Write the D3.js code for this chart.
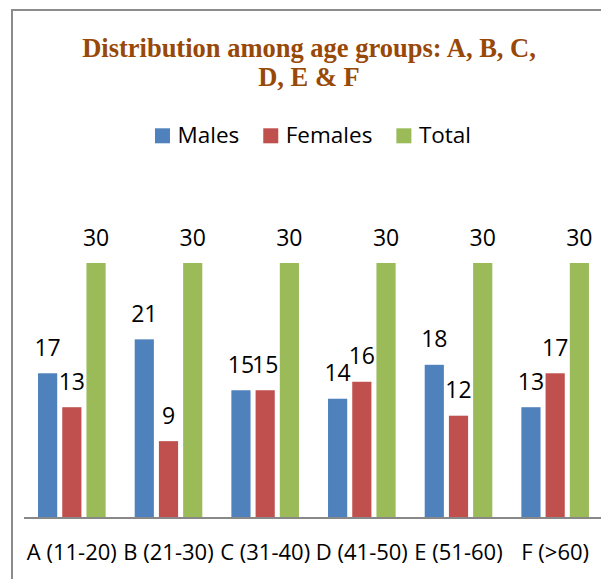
<!DOCTYPE html>
<html>
<head>
<meta charset="utf-8">
<script src="https://cdn.jsdelivr.net/npm/d3@7/dist/d3.min.js"></script>
<style>
  html, body { margin: 0; padding: 0; background: #fff; }
  svg { display: block; }
</style>
</head>
<body>
<svg id="chart" width="601" height="579"></svg>
<script>
const categories = ["A (11-20)", "B (21-30)", "C (31-40)", "D (41-50)", "E (51-60)", "F (>60)"];
const seriesNames = ["Males", "Females", "Total"];
const males = [17, 21, 15, 14, 18, 13];
const females = [13, 9, 15, 16, 12, 17];
const total = [30, 30, 30, 30, 30, 30];
const colors = ["#4F81BD", "#C0504D", "#9BBB59"];
const titleLines = ["Distribution among age groups: A, B, C,", "D, E & F"];

const seriesValues = [males, females, total];
const W = 601, H = 579;
const svg = d3.select("#chart");
const sansFont = "'Open Sans', 'Liberation Sans', sans-serif";

// frame
svg.append("rect")
  .attr("x", 12).attr("y", 10)
  .attr("width", W + 20).attr("height", H + 20)
  .attr("fill", "#fff").attr("stroke", "#8c8c8c").attr("stroke-width", 2);

// title
const title = svg.append("text")
  .attr("text-anchor", "middle")
  .attr("font-family", "'Liberation Serif', 'Times New Roman', serif")
  .attr("font-weight", "bold")
  .attr("font-size", 26.5)
  .attr("fill", "#984807");
titleLines.forEach((t, i) => {
  title.append("tspan").attr("x", 309).attr("y", 57 + i * 29).text(t);
});

// scales
const x = d3.scaleBand().domain(categories).range([23.5, 603.5]).paddingInner(0).paddingOuter(0);
const xs = d3.scaleBand().domain(seriesNames).range([-33.8, 33.8]).paddingInner(0.208).paddingOuter(0);
const y = d3.scaleLinear().domain([0, 30]).range([517.5, 263]);

// bars
const groups = svg.append("g").selectAll("g")
  .data(categories)
  .join("g")
  .attr("transform", d => `translate(${x(d) + x.bandwidth() / 2},0)`);

groups.each(function (cat, ci) {
  const g = d3.select(this);
  seriesNames.forEach((s, si) => {
    const v = seriesValues[si][ci];
    g.append("rect")
      .attr("x", xs(s))
      .attr("y", y(v))
      .attr("width", xs.bandwidth())
      .attr("height", y(0) - y(v))
      .attr("fill", colors[si]);
    g.append("text")
      .attr("x", xs(s) + xs.bandwidth() / 2)
      .attr("y", y(v) - 17.5)
      .attr("text-anchor", "middle")
      .attr("font-family", sansFont)
      .attr("font-size", 23)
      .attr("fill", "#000")
      .text(v);
  });
});

// axis
const axis = svg.append("g")
  .attr("transform", `translate(0,${y(0)})`)
  .call(d3.axisBottom(x).tickSize(0).tickPadding(27).tickSizeOuter(0));
axis.select(".domain").attr("stroke", "#888").attr("stroke-width", 2);
axis.selectAll("text")
  .attr("font-family", sansFont)
  .attr("font-size", 22)
  .attr("fill", "#000");

// legend
const legend = svg.append("g");
const items = [];
let cursor = 0;
seriesNames.forEach((s, i) => {
  const item = legend.append("g");
  item.append("rect")
    .attr("x", cursor).attr("y", 128.3)
    .attr("width", 15).attr("height", 15)
    .attr("fill", colors[i]);
  const t = item.append("text")
    .attr("x", cursor + 22.5).attr("y", 143.3)
    .attr("font-family", sansFont)
    .attr("font-size", 22.5)
    .attr("fill", "#000")
    .text(s);
  const w = t.node().getComputedTextLength();
  cursor = cursor + 22.5 + w + 24;
});
const legendWidth = cursor - 24;
legend.attr("transform", `translate(${313 - legendWidth / 2},0)`);
</script>
</body>
</html>
